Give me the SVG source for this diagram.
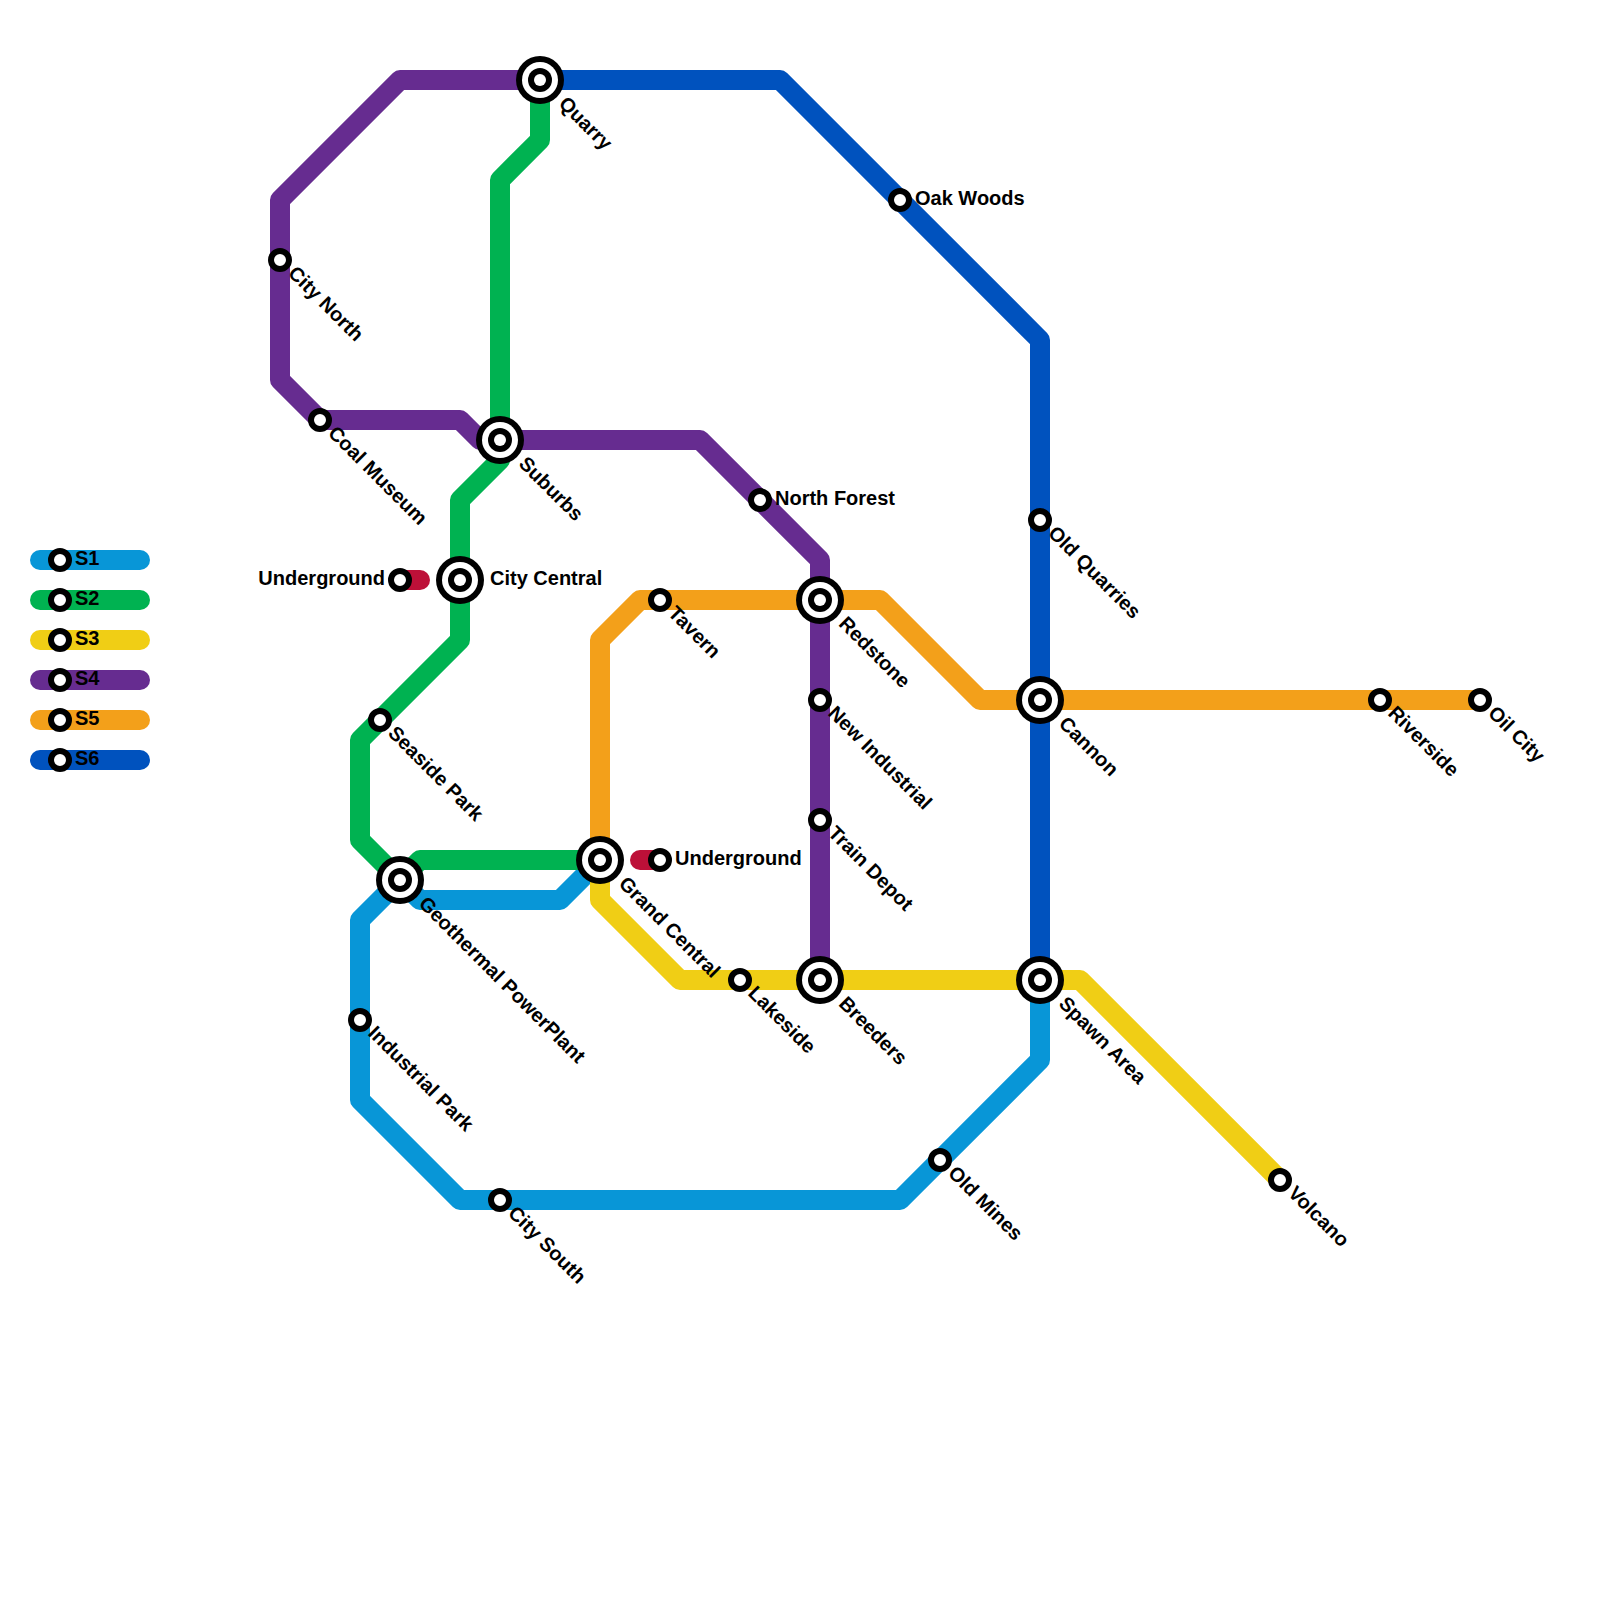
<svg xmlns="http://www.w3.org/2000/svg" width="1600" height="1600" viewBox="0 0 1600 1600">
<style>
.l{fill:none;stroke-width:20;stroke-linejoin:round;stroke-linecap:round}
.s1{stroke:#0896d7}.s2{stroke:#00b251}.s3{stroke:#f0ce15}.s4{stroke:#662c90}.s5{stroke:#f3a01a}.s6{stroke:#0052be}.u{stroke:#bd1038}
.st{fill:#fff;stroke:#000;stroke-width:6}
.ib{fill:#000}.iw{fill:#fff}
text{font-family:"Liberation Sans",Arial,sans-serif;font-weight:700;font-size:20px;fill:#000}
.e{text-anchor:end}
</style>
<defs>
<g id="small"><circle class="st" r="9"/></g>
<g id="big"><circle class="ib" r="24"/><circle class="iw" r="18"/><circle class="ib" r="12"/><circle class="iw" r="6"/></g>
</defs>
<g id="connectors">
<path class="l s1" d="M600 860L560 900H420L400 880L360 920V1100L460 1200H900L1040 1060V980"/>
<path class="l s2" d="M540 80V140L500 180V460L460 500V640L360 740V840L400 880L420 860H600"/>
<path class="l s3" d="M600 860V900L680 980H1080L1280 1180"/>
<path class="l s4" d="M540 80H400L280 200V380L320 420H460L480 440H700L820 560V980"/>
<path class="l s5" d="M1480 700H980L880 600H640L600 640V860"/>
<path class="l s6" d="M540 80H780L1040 340V980"/>
<path class="l u" d="M400 580H420"/>
<path class="l u" d="M640 860H660"/>
</g>
<g id="legend">
<g id="legend-s1"><path class="l s1" d="M40 560H140"/><use href="#small" x="60" y="560"/><text x="75" y="565">S1</text></g>
<g id="legend-s2"><path class="l s2" d="M40 600H140"/><use href="#small" x="60" y="600"/><text x="75" y="605">S2</text></g>
<g id="legend-s3"><path class="l s3" d="M40 640H140"/><use href="#small" x="60" y="640"/><text x="75" y="645">S3</text></g>
<g id="legend-s4"><path class="l s4" d="M40 680H140"/><use href="#small" x="60" y="680"/><text x="75" y="685">S4</text></g>
<g id="legend-s5"><path class="l s5" d="M40 720H140"/><use href="#small" x="60" y="720"/><text x="75" y="725">S5</text></g>
<g id="legend-s6"><path class="l s6" d="M40 760H140"/><use href="#small" x="60" y="760"/><text x="75" y="765">S6</text></g>
</g>
<g id="quarry" transform="translate(540 80)"><use href="#big"/><text transform="rotate(45)" x="30" y="5">Quarry</text></g>
<g id="city-north" transform="translate(280 260)"><use href="#small"/><text transform="rotate(45)" x="15" y="5">City North</text></g>
<g id="coal-museum" transform="translate(320 420)"><use href="#small"/><text transform="rotate(45)" x="15" y="5">Coal Museum</text></g>
<g id="suburbs" transform="translate(500 440)"><use href="#big"/><text transform="rotate(45)" x="30" y="5">Suburbs</text></g>
<g id="city-central" transform="translate(460 580)"><use href="#big"/><text x="30" y="5">City Central</text></g>
<g id="underground-1" transform="translate(400 580)"><use href="#small"/><text class="e" x="-15" y="5">Underground</text></g>
<g id="seaside-park" transform="translate(380 720)"><use href="#small"/><text transform="rotate(45)" x="15" y="5">Seaside Park</text></g>
<g id="geothermal-powerplant" transform="translate(400 880)"><use href="#big"/><text transform="rotate(45)" x="30" y="5">Geothermal PowerPlant</text></g>
<g id="grand-central" transform="translate(600 860)"><use href="#big"/><text transform="rotate(45)" x="30" y="5">Grand Central</text></g>
<g id="underground-2" transform="translate(660 860)"><use href="#small"/><text x="15" y="5">Underground</text></g>
<g id="industrial-park" transform="translate(360 1020)"><use href="#small"/><text transform="rotate(45)" x="15" y="5">Industrial Park</text></g>
<g id="city-south" transform="translate(500 1200)"><use href="#small"/><text transform="rotate(45)" x="15" y="5">City South</text></g>
<g id="old-mines" transform="translate(940 1160)"><use href="#small"/><text transform="rotate(45)" x="15" y="5">Old Mines</text></g>
<g id="spawn-area" transform="translate(1040 980)"><use href="#big"/><text transform="rotate(45)" x="30" y="5">Spawn Area</text></g>
<g id="breeders" transform="translate(820 980)"><use href="#big"/><text transform="rotate(45)" x="30" y="5">Breeders</text></g>
<g id="lakeside" transform="translate(740 980)"><use href="#small"/><text transform="rotate(45)" x="15" y="5">Lakeside</text></g>
<g id="train-depot" transform="translate(820 820)"><use href="#small"/><text transform="rotate(45)" x="15" y="5">Train Depot</text></g>
<g id="new-industrial" transform="translate(820 700)"><use href="#small"/><text transform="rotate(45)" x="15" y="5">New Industrial</text></g>
<g id="redstone" transform="translate(820 600)"><use href="#big"/><text transform="rotate(45)" x="30" y="5">Redstone</text></g>
<g id="tavern" transform="translate(660 600)"><use href="#small"/><text transform="rotate(45)" x="15" y="5">Tavern</text></g>
<g id="north-forest" transform="translate(760 500)"><use href="#small"/><text x="15" y="5">North Forest</text></g>
<g id="oak-woods" transform="translate(900 200)"><use href="#small"/><text x="15" y="5">Oak Woods</text></g>
<g id="old-quarries" transform="translate(1040 520)"><use href="#small"/><text transform="rotate(45)" x="15" y="5">Old Quarries</text></g>
<g id="cannon" transform="translate(1040 700)"><use href="#big"/><text transform="rotate(45)" x="30" y="5">Cannon</text></g>
<g id="riverside" transform="translate(1380 700)"><use href="#small"/><text transform="rotate(45)" x="15" y="5">Riverside</text></g>
<g id="oil-city" transform="translate(1480 700)"><use href="#small"/><text transform="rotate(45)" x="15" y="5">Oil City</text></g>
<g id="volcano" transform="translate(1280 1180)"><use href="#small"/><text transform="rotate(45)" x="15" y="5">Volcano</text></g>
</svg>
